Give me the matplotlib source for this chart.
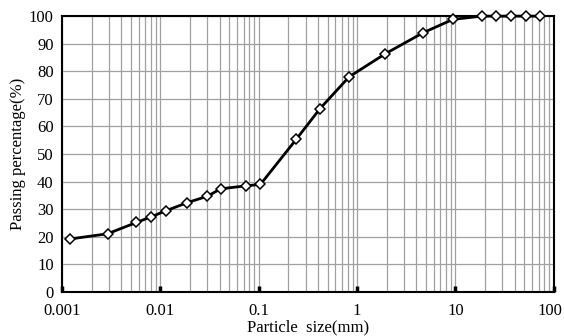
import matplotlib
matplotlib.use("Agg")
import matplotlib.pyplot as plt
import matplotlib.transforms as mtransforms
from matplotlib.ticker import LogLocator, FixedLocator, NullFormatter

plt.rcParams["font.family"] = ["Liberation Serif", "DejaVu Serif"]

# particle size (mm) and passing percentage (%)
size_mm = [0.0012, 0.0029, 0.0057, 0.008, 0.0113, 0.0188, 0.03, 0.041, 0.075, 0.104,
           0.24, 0.42, 0.83, 1.92, 4.7, 9.4, 18.5, 25.8, 37, 52, 72]
passing = [19.2, 21.1, 25.2, 27.2, 29.4, 32.4, 34.7, 37.4, 38.5, 39.0,
           55.3, 66.5, 78.0, 86.3, 94.0, 98.8, 100, 100, 100, 100, 100]
x_ticks = [0.001, 0.01, 0.1, 1, 10, 100]
x_ticklabels = ["0.001", "0.01", "0.1", "1", "10", "100"]
y_ticks = list(range(0, 101, 10))

fig = plt.figure(figsize=(5.64, 3.36), dpi=100)
ax = fig.add_axes([0.110, 0.131, 0.872, 0.821])

ax.plot(size_mm, passing, color="black", lw=2, marker="D", ms=5.5,
        mfc="white", mec="black", mew=1.1, zorder=5, clip_on=False)

ax.set_xscale("log")
ax.set_xlim(0.001, 100)
ax.set_ylim(0, 100)
ax.xaxis.set_major_locator(FixedLocator(x_ticks))
ax.set_xticks(x_ticks, x_ticklabels)
ax.xaxis.set_minor_locator(LogLocator(base=10, subs=range(2, 10), numticks=20))
ax.xaxis.set_minor_formatter(NullFormatter())
ax.set_yticks(y_ticks)

ax.grid(True, which="major", color="#a0a0a0", lw=0.9)
ax.grid(True, which="minor", axis="x", color="#a0a0a0", lw=0.9)

ax.tick_params(axis="x", which="major", direction="in", length=4, width=2.5,
               labelsize=12, pad=8)
ax.tick_params(axis="x", which="minor", length=0)
ax.tick_params(axis="y", which="major", direction="in", length=0, labelsize=12, pad=6)

# keep the last x label inside the figure edge
last = ax.get_xticklabels()[-1]
last.set_transform(last.get_transform() +
                   mtransforms.ScaledTranslation(-4 / 100, 0, fig.dpi_scale_trans))

for s in ax.spines.values():
    s.set_linewidth(1.5)

ax.set_xlabel("Particle  size(mm)", fontsize=12, labelpad=0)
ax.set_ylabel("Passing percentage(%)", fontsize=12, labelpad=2)

fig.savefig("out.png", dpi=100)
